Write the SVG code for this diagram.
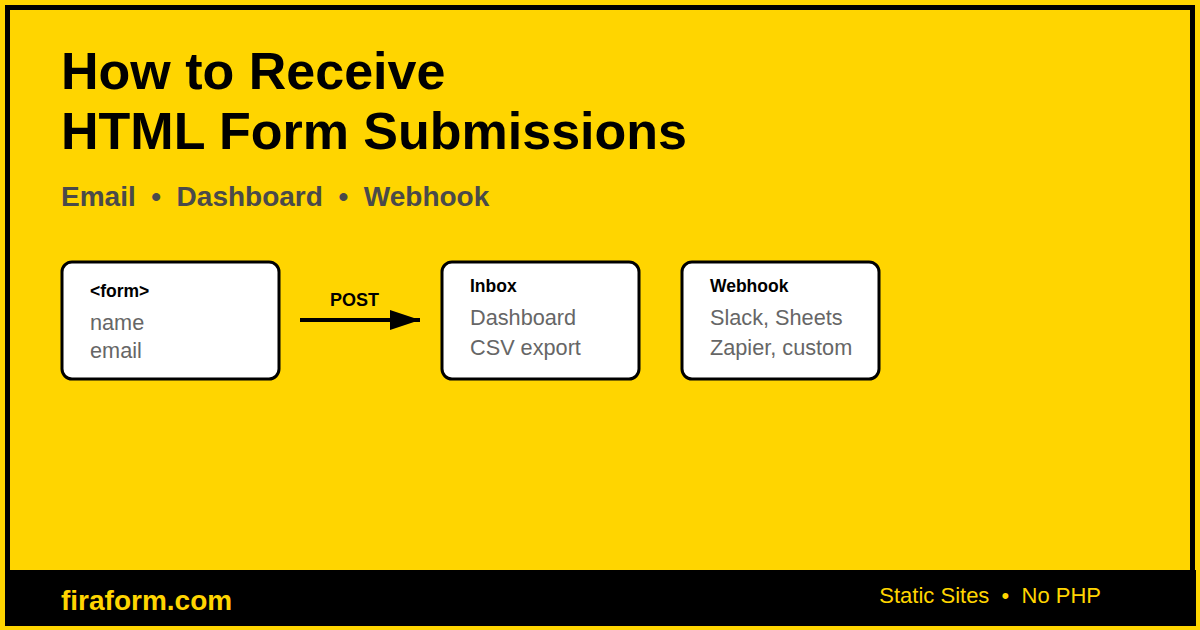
<svg xmlns="http://www.w3.org/2000/svg" width="1200" height="630" viewBox="0 0 1200 630">
<defs>
<style>
.t{font-family:"Liberation Sans",Arial,sans-serif}
.box{fill:#fff;stroke:#000;stroke-width:3}
.hd{font-size:17.5px;font-weight:bold;fill:#000}
.it{font-size:21.7px;fill:#666}
</style>
<marker id="ah" markerWidth="30" markerHeight="20" refX="30" refY="10" orient="auto" markerUnits="userSpaceOnUse">
<path d="M0,0 L30,10 L0,20 Z" fill="#000"/>
</marker>
</defs>
<rect x="0" y="0" width="1200" height="630" fill="#FFD500"/>
<rect x="7.5" y="7.5" width="1185" height="615" fill="none" stroke="#000" stroke-width="5"/>
<rect x="5" y="570" width="1191" height="56" fill="#000"/>
<g class="t">
<text x="61" y="89" font-size="52" font-weight="bold" fill="#000">How to Receive</text>
<text x="61" y="149" font-size="52" font-weight="bold" fill="#000">HTML Form Submissions</text>
<text x="61" y="206" font-size="28" font-weight="bold" fill="#4a4a4a" xml:space="preserve">Email  •  Dashboard  •  Webhook</text>
<text x="61" y="610" font-size="28" font-weight="bold" fill="#FFD500">firaform.com</text>
<text x="1101" y="603" font-size="22" fill="#FFD500" text-anchor="end" xml:space="preserve">Static Sites  •  No PHP</text>
</g>
<g id="connectors">
<line x1="300" y1="320" x2="420" y2="320" stroke="#000" stroke-width="4" marker-end="url(#ah)"/>
<text class="t" x="354.5" y="306" font-size="18" font-weight="bold" text-anchor="middle" fill="#000">POST</text>
</g>
<g id="node-form" class="t">
<rect class="box" x="62" y="262" width="217" height="117" rx="10"/>
<text class="hd" x="90" y="297">&lt;form&gt;</text>
<text class="it" x="90" y="330">name</text>
<text class="it" x="90" y="358">email</text>
</g>
<g id="node-inbox" class="t">
<rect class="box" x="442" y="262" width="197" height="117" rx="10"/>
<text class="hd" x="470" y="292">Inbox</text>
<text class="it" x="470" y="325">Dashboard</text>
<text class="it" x="470" y="355">CSV export</text>
</g>
<g id="node-webhook" class="t">
<rect class="box" x="682" y="262" width="197" height="117" rx="10"/>
<text class="hd" x="710" y="292">Webhook</text>
<text class="it" x="710" y="325">Slack, Sheets</text>
<text class="it" x="710" y="355">Zapier, custom</text>
</g>
</svg>
